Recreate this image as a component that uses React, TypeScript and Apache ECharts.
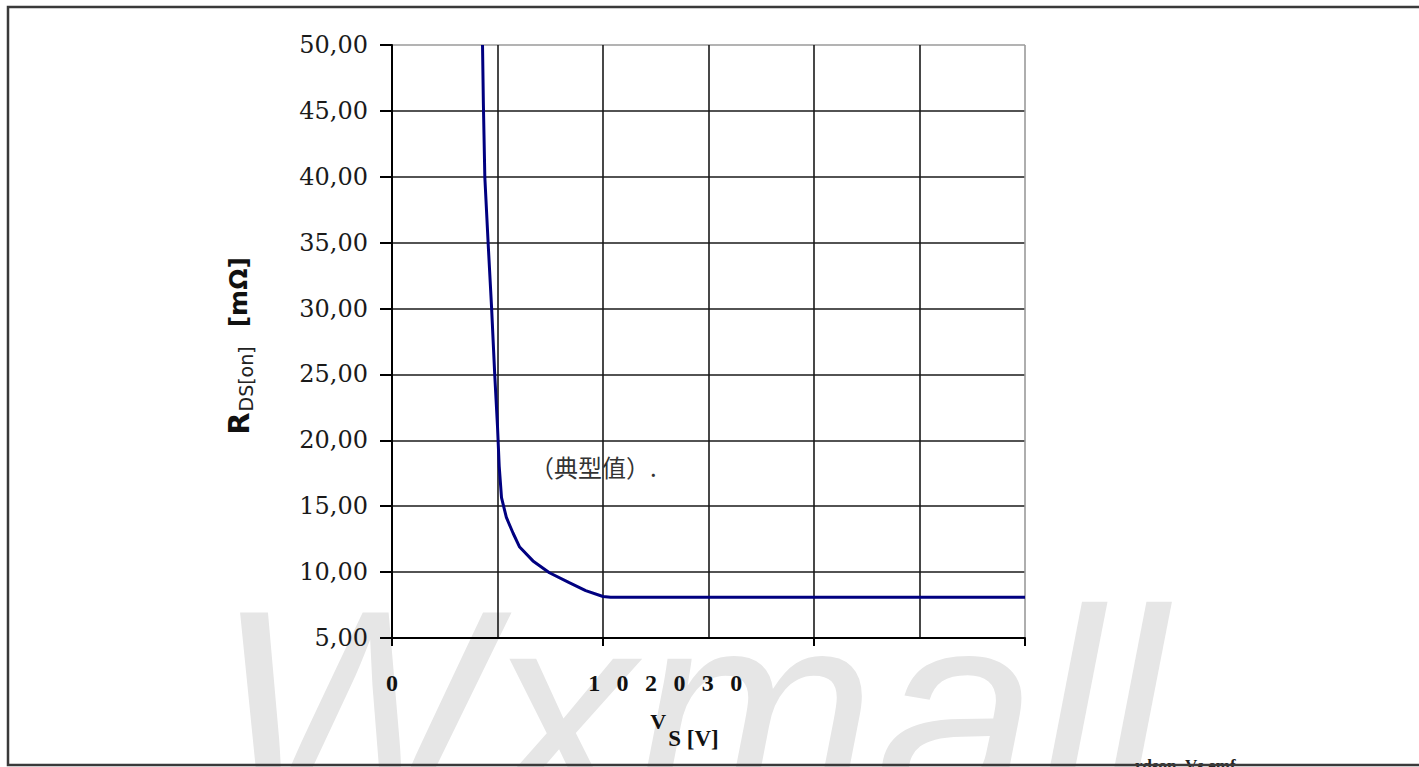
import React, { useEffect, useRef } from "react";
import * as echarts from "echarts";

// ---- data ----
const vsValues = [4.29, 4.33, 4.4, 4.56, 4.72, 4.87, 5.0, 5.08, 5.19, 5.42, 5.74, 6.05, 6.68, 7.46, 8.4, 9.18, 10.0, 10.36, 30];
const rdsValues = [50, 45.6, 39.95, 34.85, 30.05, 24.95, 21.05, 18.05, 15.65, 14.15, 12.95, 11.9, 10.85, 9.95, 9.2, 8.6, 8.15, 8.1, 8.1];

const xTickValues = [0, 10, 20, 30];
const xTickLabels = ["0", "1 0 2 0 3 0", "", ""];
const yTickValues = [5, 10, 15, 20, 25, 30, 35, 40, 45, 50];
const yTickLabels = ["5,00", "10,00", "15,00", "20,00", "25,00", "30,00", "35,00", "40,00", "45,00", "50,00"];

const xAxisTitleMain = "V";
const xAxisTitleSub = "S [V]";
const yAxisTitleMain = "R";
const yAxisTitleSub = "DS[on]";
const yAxisTitleUnit = "[mΩ]";
const annotationText = "（典型值）.";
const watermarkText = "Wxmall";
const fileTagText = "rdson_Vs.emf";

const GRID = "#1a1a1a";

export default function App() {
  const ref = useRef<HTMLDivElement | null>(null);

  useEffect(() => {
    document.body.style.margin = "0";
    if (!ref.current) return;
    const chart = echarts.init(ref.current, undefined, { renderer: "svg" });

    const xFormatter = (v: number) => {
      const i = xTickValues.findIndex((t) => Math.abs(t - v) < 1e-6);
      const s = i >= 0 ? xTickLabels[i] : "";
      if (!s) return "";
      const parts = s.split(" ");
      if (parts.length === 1) return `{z|${s}}`;
      return "{p|\u00A0}" + parts.map((c) => `{d|${c}}`).join("");
    };
    const yFormatter = (v: number) => {
      const i = yTickValues.findIndex((t) => Math.abs(t - v) < 1e-6);
      return i >= 0 ? yTickLabels[i] : "";
    };

    const serifBold = { fontFamily: "Liberation Serif", fontWeight: "bold" as const, fontSize: 24, color: "#111" };

    chart.setOption({
      animation: false,
      backgroundColor: "#ffffff",
      grid: { left: 392, top: 45, width: 633, height: 593, containLabel: false },
      xAxis: {
        type: "value",
        min: 0,
        max: 30,
        interval: 10,
        name: `{v|${xAxisTitleMain}}{s|${xAxisTitleSub}}`,
        nameLocation: "middle",
        nameGap: 72,
        nameTextStyle: {
          padding: [0, 48, 0, 0],
          rich: {
            v: { fontFamily: "Liberation Serif", fontWeight: "bold", fontSize: 22, color: "#111", padding: [0, 2, 18, 0] },
            s: { fontFamily: "Liberation Serif", fontWeight: "bold", fontSize: 23, color: "#111", padding: [16, 0, 0, 0] },
          },
        },
        axisLine: { show: true, lineStyle: { color: "#000", width: 2 } },
        axisTick: { show: true, length: 8, lineStyle: { color: "#000", width: 2 } },
        axisLabel: {
          margin: 33,
          formatter: xFormatter,
          rich: {
            z: serifBold,
            d: { ...serifBold, width: 28.4, align: "left" },
            p: { ...serifBold, width: 124.4 },
          },
        },
        splitLine: { show: true, lineStyle: { color: [GRID, GRID, GRID, "#9a9a9a"], width: 1.6 } },
        minorTick: { show: false, splitNumber: 2 },
        minorSplitLine: { show: true, lineStyle: { color: GRID, width: 1.6 } },
      },
      yAxis: {
        type: "value",
        min: 5,
        max: 50,
        interval: 5,
        name: `{r|${yAxisTitleMain}}{sub|${yAxisTitleSub}}{u|${yAxisTitleUnit}}`,
        nameLocation: "middle",
        nameGap: 137,
        nameTextStyle: {
          padding: [0, 9, 0, 0],
          rich: {
            r: { fontFamily: "DejaVu Sans", fontWeight: "bold", fontSize: 29, color: "#111" },
            sub: { fontFamily: "DejaVu Sans", fontSize: 19, color: "#222", padding: [14, 0, 0, 1] },
            u: { fontFamily: "DejaVu Sans", fontWeight: "bold", fontSize: 25, color: "#111", padding: [0, 0, 0, 19] },
          },
        },
        axisLine: { show: true, lineStyle: { color: "#000", width: 2 } },
        axisTick: { show: true, length: 12, lineStyle: { color: "#000", width: 2 } },
        axisLabel: {
          margin: 24,
          formatter: yFormatter,
          fontFamily: "DejaVu Serif",
          fontSize: 24,
          color: "#1a1a1a",
        },
        splitLine: {
          show: true,
          lineStyle: { color: [GRID, GRID, GRID, GRID, GRID, GRID, GRID, GRID, GRID, "#9a9a9a"], width: 1.6 },
        },
      },
      series: [
        {
          type: "line",
          data: vsValues.map((v, i) => [v, rdsValues[i]]),
          showSymbol: false,
          symbol: "none",
          lineStyle: { color: "#000080", width: 3 },
          z: 5,
        },
      ],
      graphic: [
        {
          type: "text",
          z: -10,
          silent: true,
          x: 215,
          y: 711,
          style: {
            text: watermarkText,
            fill: "#e6e6e6",
            fontFamily: "Liberation Sans",
            fontStyle: "italic",
            fontSize: 290,
            align: "left",
            verticalAlign: "middle",
          },
        },
        {
          type: "text",
          z: 10,
          x: 530,
          y: 466,
          style: {
            text: annotationText,
            fill: "#333",
            fontFamily: "Noto Sans CJK SC",
            fontSize: 24,
            align: "left",
            verticalAlign: "middle",
          },
        },
        {
          type: "text",
          z: 10,
          x: 1135,
          y: 757,
          style: {
            text: fileTagText,
            fill: "#222",
            fontFamily: "Liberation Serif",
            fontWeight: "bold",
            fontSize: 17,
            align: "left",
            verticalAlign: "top",
          },
        },
        {
          type: "rect",
          z: 20,
          silent: true,
          shape: { x: 8, y: 7, width: 1460, height: 758 },
          style: { fill: "none", stroke: "#3a3a3a", lineWidth: 2.5 },
        },
      ],
    });

    return () => chart.dispose();
  }, []);

  return <div ref={ref} style={{ width: 1419, height: 767 }} />;
}
